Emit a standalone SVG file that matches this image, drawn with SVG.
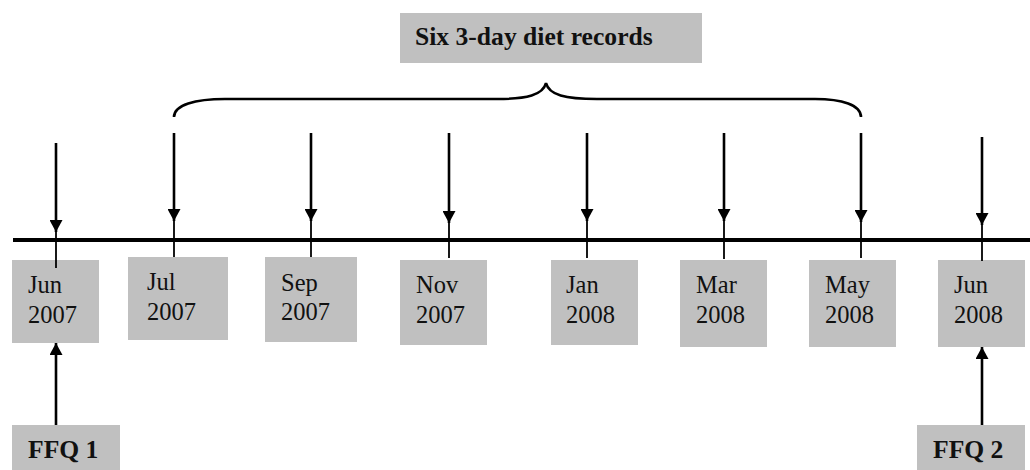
<svg xmlns="http://www.w3.org/2000/svg" width="1030" height="470" viewBox="0 0 1030 470">
<style>
.box{fill:#c0c0c0}
.lbl{font-family:"Liberation Serif","Times New Roman",serif;font-size:24.5px;fill:#111}
.bold{font-family:"Liberation Serif","Times New Roman",serif;font-size:25.6px;font-weight:bold;fill:#111}
.arr{stroke:#000;stroke-width:2.6;fill:none}
.tick{stroke:#000;stroke-width:1.8;fill:none}
</style>
<defs>
<marker id="ah" markerUnits="userSpaceOnUse" markerWidth="13" markerHeight="13" refX="12" refY="6.5" orient="auto" viewBox="0 0 13 13">
<path d="M0,0 L12,6.5 L0,13 z" fill="#000"/>
</marker>
</defs>
<rect width="1030" height="470" fill="#fff"/>
<g id="title"><rect class="box" x="400" y="13" width="302" height="50"/><text class="bold" x="415" y="45">Six 3-day diet records</text></g>
<g id="jun2007"><rect class="box" x="12" y="260" width="87" height="83"/><text class="lbl" x="28" y="293">Jun</text><text class="lbl" x="28" y="323">2007</text></g>
<g id="jul2007"><rect class="box" x="128" y="257" width="100" height="83"/><text class="lbl" x="147" y="290">Jul</text><text class="lbl" x="147" y="320">2007</text></g>
<g id="sep2007"><rect class="box" x="265" y="257" width="92" height="85"/><text class="lbl" x="281" y="291">Sep</text><text class="lbl" x="281" y="320">2007</text></g>
<g id="nov2007"><rect class="box" x="400" y="260" width="87" height="85"/><text class="lbl" x="416" y="293">Nov</text><text class="lbl" x="416" y="323">2007</text></g>
<g id="jan2008"><rect class="box" x="551" y="260" width="87" height="85"/><text class="lbl" x="566" y="293">Jan</text><text class="lbl" x="566" y="323">2008</text></g>
<g id="mar2008"><rect class="box" x="680" y="260" width="87" height="87"/><text class="lbl" x="696" y="293">Mar</text><text class="lbl" x="696" y="323">2008</text></g>
<g id="may2008"><rect class="box" x="809" y="260" width="87" height="87"/><text class="lbl" x="825" y="293">May</text><text class="lbl" x="825" y="323">2008</text></g>
<g id="jun2008"><rect class="box" x="938" y="260" width="87" height="87"/><text class="lbl" x="954" y="293">Jun</text><text class="lbl" x="954" y="323">2008</text></g>
<g id="ffq1"><rect class="box" x="12" y="425" width="108" height="45"/><text class="bold" x="28" y="458">FFQ 1</text></g>
<g id="ffq2"><rect class="box" x="917" y="425" width="108" height="45"/><text class="bold" x="933" y="458">FFQ 2</text></g>
<g id="connectors">
<line x1="13" y1="240" x2="1030" y2="240" stroke="#000" stroke-width="4"/>
<path class="arr" d="M174,117 C174,105 195,99 225,99 L497,99 C527,99 543,95 546,83 C549,95 565,99 597,99 L815,99 C842,99 861,105 861,117"/>
<line class="arr" x1="56" y1="143" x2="56" y2="232" marker-end="url(#ah)"/>
<line class="arr" x1="174" y1="133" x2="174" y2="221" marker-end="url(#ah)"/>
<line class="arr" x1="311" y1="133" x2="311" y2="221" marker-end="url(#ah)"/>
<line class="arr" x1="449" y1="133" x2="449" y2="223" marker-end="url(#ah)"/>
<line class="arr" x1="587" y1="133" x2="587" y2="221" marker-end="url(#ah)"/>
<line class="arr" x1="724" y1="133" x2="724" y2="221" marker-end="url(#ah)"/>
<line class="arr" x1="861" y1="133" x2="861" y2="222" marker-end="url(#ah)"/>
<line class="arr" x1="982" y1="137" x2="982" y2="225" marker-end="url(#ah)"/>
<line class="tick" x1="56" y1="232" x2="56" y2="268"/>
<line class="tick" x1="174" y1="221" x2="174" y2="257"/>
<line class="tick" x1="311" y1="221" x2="311" y2="257"/>
<line class="tick" x1="449" y1="223" x2="449" y2="258"/>
<line class="tick" x1="587" y1="221" x2="587" y2="258"/>
<line class="tick" x1="724" y1="221" x2="724" y2="259"/>
<line class="tick" x1="861" y1="222" x2="861" y2="258"/>
<line class="tick" x1="982" y1="225" x2="982" y2="261"/>
<line class="arr" x1="56" y1="425" x2="56" y2="343" marker-end="url(#ah)"/>
<line class="arr" x1="982" y1="425" x2="982" y2="347" marker-end="url(#ah)"/>
</g>
</svg>
